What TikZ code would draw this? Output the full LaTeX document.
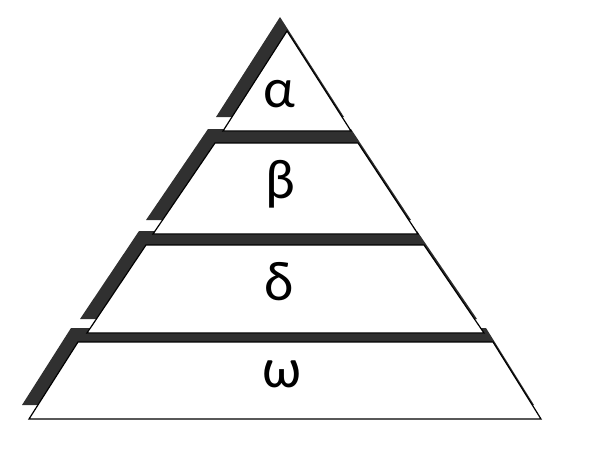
\documentclass[tikz,border=0pt]{standalone}
\usepackage{fontspec}
\setmainfont{Carlito}

\begin{document}
\begin{tikzpicture}[x=1pt, y=-1pt,
    layer/.style={draw=black, line width=1.2pt, fill=white, line join=miter},
    layershadow/.style={fill=shadow_grey, shift={(-7,-14)}},
    greek/.style={anchor=base, inner sep=0pt, font=\fontsize{56}{60}\selectfont}]
    \definecolor{shadow_grey}{HTML}{303030}
    %\draw[help lines] (0,0) grid (594,458);
    \useasboundingbox (0,0) rectangle (594,458);

    % shadows
    \fill[layershadow] (287,31) -- (351,131) -- (223,131) -- cycle;
    \fill[layershadow] (215,143) -- (358,143) -- (418,234) -- (153,234) -- cycle;
    \fill[layershadow] (146,245) -- (424,245) -- (484,333) -- (87,333) -- cycle;
    \fill[layershadow] (78,342) -- (493,342) -- (541,419) -- (29,419) -- cycle;

    % layers
    \draw[layer] (287,31) -- (351,131) -- (223,131) -- cycle;
    \draw[layer] (215,143) -- (358,143) -- (418,234) -- (153,234) -- cycle;
    \draw[layer] (146,245) -- (424,245) -- (484,333) -- (87,333) -- cycle;
    \draw[layer] (78,342) -- (493,342) -- (541,419) -- (29,419) -- cycle;

    \node[greek] (alpha) at (279,107) {α};
    \node[greek] (beta)  at (280,198) {β};
    \node[greek] (delta) at (279,300) {δ};
    \node[greek] (omega) at (282,387) {ω};
\end{tikzpicture}
\end{document}
